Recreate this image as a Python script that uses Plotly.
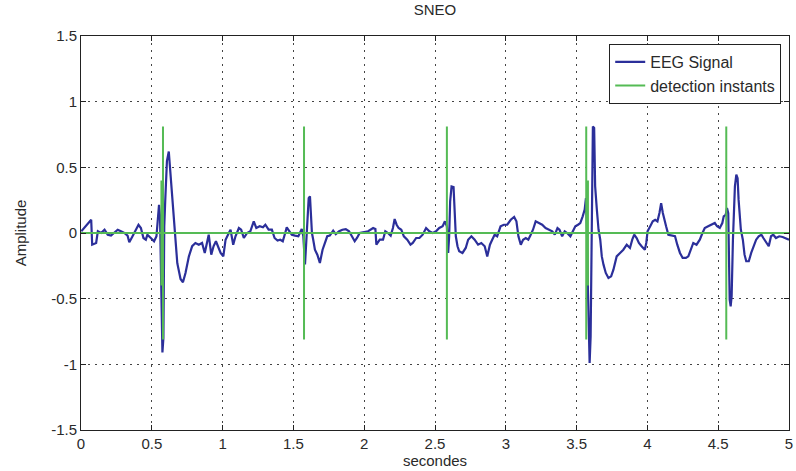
import plotly.graph_objects as go

# EEG signal samples (time in s, amplitude)
eeg_t = [0.002, 0.072, 0.079, 0.107, 0.119, 0.142, 0.166, 0.189, 0.212, 0.236, 0.259, 0.282, 0.306, 0.329, 0.341, 0.364, 0.388, 0.406, 0.423, 0.441, 0.458, 0.469, 0.493, 0.516, 0.533, 0.544, 0.551, 0.558, 0.567, 0.575, 0.582, 0.588, 0.595, 0.607, 0.620, 0.630, 0.645, 0.655, 0.668, 0.680, 0.703, 0.720, 0.738, 0.762, 0.785, 0.808, 0.832, 0.855, 0.874, 0.890, 0.902, 0.920, 0.936, 0.953, 0.972,
         0.986, 1.005, 1.021, 1.044, 1.056, 1.075, 1.091, 1.115, 1.131, 1.150, 1.173, 1.196, 1.220, 1.238, 1.262, 1.285, 1.302, 1.325, 1.348, 1.367, 1.388, 1.407, 1.425, 1.442, 1.453, 1.472, 1.489, 1.512, 1.535, 1.559, 1.570, 1.582, 1.589, 1.598, 1.608, 1.617, 1.624, 1.631, 1.640, 1.652, 1.669, 1.687, 1.706, 1.722, 1.739, 1.757, 1.781, 1.799, 1.823, 1.846, 1.870, 1.893, 1.916, 1.933, 1.949, 1.968, 1.991,
         2.015, 2.028, 2.063, 2.079, 2.086, 2.110, 2.133, 2.149, 2.168, 2.187, 2.203, 2.215, 2.229, 2.243, 2.262, 2.280, 2.304, 2.327, 2.343, 2.367, 2.390, 2.413, 2.437, 2.460, 2.484, 2.507, 2.530, 2.554, 2.570, 2.584, 2.593, 2.600, 2.607, 2.617, 2.631, 2.640, 2.647, 2.659, 2.671, 2.694, 2.717, 2.734, 2.757, 2.780, 2.804, 2.827, 2.851, 2.869, 2.888, 2.904, 2.921, 2.939, 2.963, 2.986,
         3.010, 3.035, 3.059, 3.075, 3.089, 3.106, 3.122, 3.141, 3.159, 3.176, 3.192, 3.211, 3.234, 3.257, 3.281, 3.304, 3.328, 3.346, 3.365, 3.379, 3.398, 3.416, 3.433, 3.456, 3.473, 3.491, 3.510, 3.526, 3.543, 3.557, 3.566, 3.573, 3.580, 3.585, 3.592, 3.599, 3.603, 3.608, 3.615, 3.624, 3.631, 3.643, 3.655, 3.667, 3.678, 3.690, 3.706, 3.725, 3.744, 3.760, 3.783, 3.807, 3.830, 3.854, 3.877, 3.893, 3.907, 3.924, 3.940, 3.959, 3.982,
         3.992, 4.001, 4.020, 4.038, 4.055, 4.071, 4.085, 4.097, 4.109, 4.118, 4.132, 4.148, 4.172, 4.195, 4.211, 4.230, 4.249, 4.272, 4.289, 4.305, 4.324, 4.347, 4.370, 4.389, 4.405, 4.429, 4.452, 4.476, 4.492, 4.511, 4.529, 4.539, 4.553, 4.562, 4.571, 4.576, 4.581, 4.588, 4.595, 4.604, 4.611, 4.618, 4.628, 4.637, 4.644, 4.651, 4.660, 4.674, 4.686, 4.698, 4.716, 4.733, 4.749, 4.768, 4.786, 4.805, 4.819, 4.843, 4.857, 4.873, 4.889, 4.908, 4.931, 4.955, 4.978, 5.0]
eeg_v = [0.013, 0.101, -0.089, -0.076, 0.013, 0.0, 0.025, -0.013, -0.020, 0.0, 0.025, 0.013, 0.0, -0.020, -0.071, -0.025, 0.025, 0.063, 0.038, -0.038, -0.051, -0.013, -0.038, -0.063, -0.025, 0.127, 0.215, 0.127, -0.35, -0.91, -0.80, 0.05, 0.25, 0.55, 0.62, 0.48, 0.28, 0.13, -0.08, -0.23, -0.35, -0.375, -0.305, -0.178, -0.10, -0.076, -0.089, -0.076, -0.152, -0.076, -0.013, -0.165, -0.101, -0.063, -0.114,
         -0.152, -0.178, -0.051, 0.0, 0.025, -0.089, -0.025, 0.038, 0.025, -0.038, 0.0, 0.013, 0.089, 0.038, 0.051, 0.043, 0.063, 0.025, 0.025, -0.038, -0.058, -0.051, -0.063, 0.0, 0.043, 0.013, -0.013, -0.020, -0.025, 0.030, -0.025, -0.24, -0.076, 0.114, 0.266, 0.279, 0.089, 0.0, -0.051, -0.127, -0.165, -0.228, -0.127, -0.076, -0.025, -0.020, 0.018, -0.008, 0.013, 0.025, 0.030, 0.013, -0.025, -0.063, -0.038, 0.0, 0.005,
         0.013, 0.013, 0.038, 0.030, -0.089, -0.051, -0.051, 0.013, 0.0, -0.020, 0.038, 0.106, 0.063, 0.038, 0.025, -0.025, -0.051, -0.089, -0.076, -0.038, -0.038, -0.013, 0.038, 0.013, 0.0, 0.013, 0.038, 0.051, 0.089, 0.051, -0.152, -0.025, 0.241, 0.355, 0.350, 0.190, -0.025, -0.101, -0.139, -0.152, -0.114, -0.051, -0.025, -0.051, -0.089, -0.076, -0.101, -0.178, -0.089, -0.051, -0.013, -0.025, 0.051, 0.063,
         0.063, 0.101, 0.122, 0.089, -0.025, -0.089, -0.051, -0.038, -0.051, -0.013, 0.025, 0.089, 0.076, 0.063, 0.038, 0.025, 0.013, -0.013, 0.038, 0.025, -0.025, 0.013, 0.0, -0.025, 0.013, 0.051, 0.063, 0.076, 0.127, 0.178, 0.266, 0.025, -0.43, -0.84, -0.99, -0.79, -0.228, 0.406, 0.81, 0.80, 0.355, 0.178, 0.025, -0.051, -0.178, -0.241, -0.304, -0.342, -0.330, -0.279, -0.178, -0.152, -0.127, -0.089, -0.114, -0.051, -0.013, -0.038, -0.076, -0.101, -0.127,
         -0.076, 0.013, 0.051, 0.089, 0.101, 0.089, 0.152, 0.228, 0.152, 0.101, 0.051, -0.013, -0.020, -0.025, -0.089, -0.152, -0.190, -0.190, -0.178, -0.127, -0.076, -0.089, -0.051, 0.0, 0.038, 0.051, 0.063, 0.076, 0.051, 0.038, 0.076, 0.127, 0.139, 0.190, 0.152, -0.076, -0.507, -0.558, -0.482, -0.051, 0.228, 0.355, 0.444, 0.418, 0.254, 0.127, 0.025, -0.051, -0.165, -0.215, -0.215, -0.152, -0.101, -0.051, -0.025, -0.013, -0.038, -0.076, -0.101, -0.025, -0.013, -0.038, -0.025, -0.030, -0.038, -0.051]

# Detection instants (s) and their stem amplitudes
det_t = [0.568, 0.579, 1.575, 2.584, 3.568, 3.580, 4.557]
det_a = [0.40, 0.81, 0.81, 0.81, 0.81, 0.40, 0.81]

x_ticks = [0, 0.5, 1, 1.5, 2, 2.5, 3, 3.5, 4, 4.5, 5]
x_labels = ["0", "0.5", "1", "1.5", "2", "2.5", "3", "3.5", "4", "4.5", "5"]
y_ticks = [-1.5, -1, -0.5, 0, 0.5, 1, 1.5]
y_labels = ["-1.5", "-1", "-0.5", "0", "0.5", "1", "1.5"]

# Build the detection signal: zero everywhere, stems at the instants
dx, dy = [0.0], [0.0]
for t, a in zip(det_t, det_a):
    dx += [t, t, t, t]
    dy += [0.0, a, -a, 0.0]
dx.append(5.0)
dy.append(0.0)

blue = "#2b2f9a"
green = "#55bb55"
txt = "#2a2a2a"
font = "Liberation Sans, Arial, sans-serif"

fig = go.Figure()
fig.add_trace(go.Scatter(x=eeg_t, y=eeg_v, mode="lines", name="EEG Signal",
                         line=dict(color=blue, width=2.2)))
fig.add_trace(go.Scatter(x=dx, y=dy, mode="lines", name="detection instants",
                         line=dict(color=green, width=2)))

axis_common = dict(showline=True, linecolor="#222222", linewidth=1, mirror="allticks",
                   ticks="inside", ticklen=5, tickcolor="#222222",
                   showgrid=True, gridcolor="#444444", griddash="2px,5px", gridwidth=1.3,
                   zeroline=False, ticklabeloverflow="allow",
                   tickfont=dict(family=font, size=15, color=txt))

fig.update_layout(
    width=796, height=471,
    margin=dict(l=81, r=3, t=36, b=41),
    paper_bgcolor="white", plot_bgcolor="white",
    title=dict(text="SNEO", xref="paper", x=0.5, xanchor="center", y=0.99, yanchor="top",
               font=dict(family=font, size=15, color=txt)),
    xaxis=dict(range=[0, 5], tickvals=x_ticks, ticktext=x_labels,
               title=dict(text="secondes", standoff=3, font=dict(family=font, size=15, color=txt)),
               **axis_common),
    yaxis=dict(range=[-1.5, 1.5], tickvals=y_ticks, ticktext=y_labels,
               title=dict(text="Amplitude", standoff=20, font=dict(family=font, size=15, color=txt)),
               **axis_common),
    legend=dict(x=0.989, xanchor="right", y=0.98, yanchor="top",
                bgcolor="white", bordercolor="#222222", borderwidth=1,
                font=dict(family=font, size=16, color=txt),
                tracegroupgap=0),
    showlegend=True,
)

fig.write_html("out.html")
